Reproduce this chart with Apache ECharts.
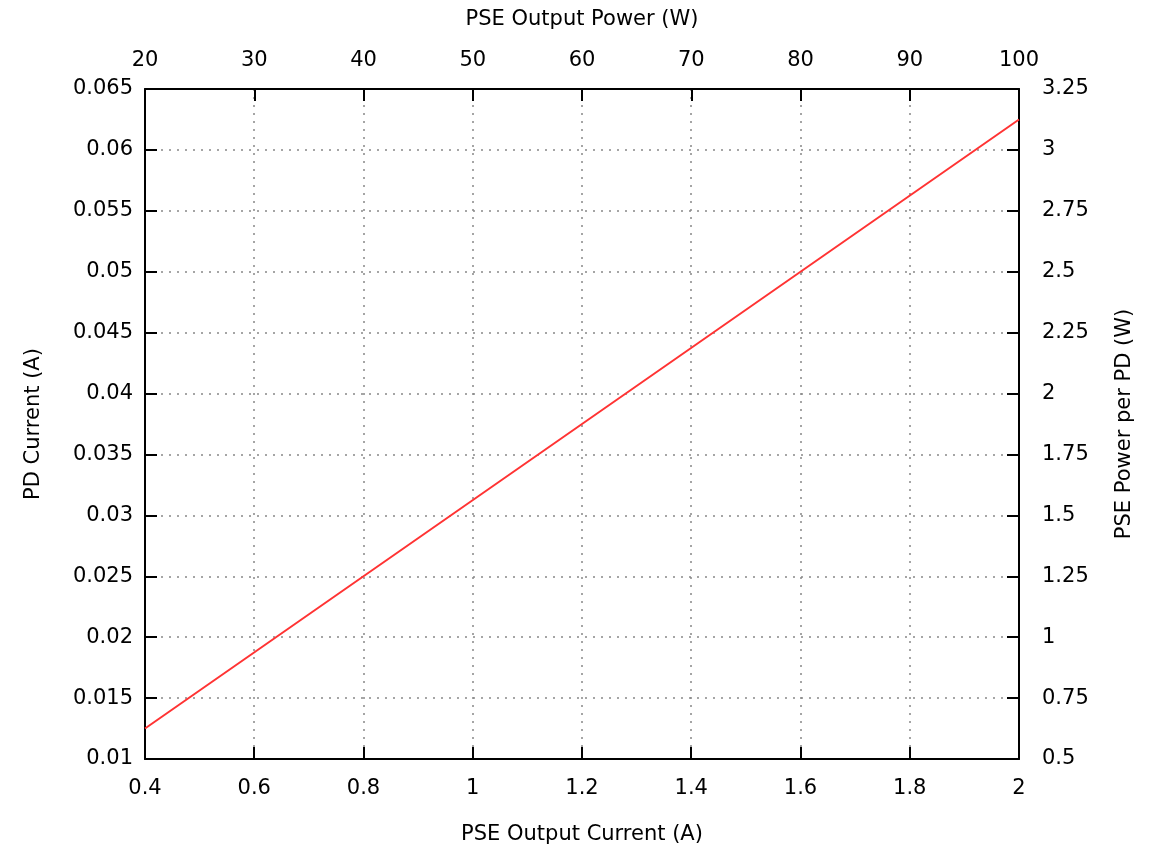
<!DOCTYPE html>
<html>
<head>
<meta charset="utf-8">
<script src="https://cdn.jsdelivr.net/npm/echarts@6/dist/echarts.min.js"></script>
<style>
  html, body { margin: 0; padding: 0; background: #fff; }
  #chart { width: 1175px; height: 850px; }
</style>
</head>
<body>
<div id="chart"></div>
<script>
// PSE output current (A) vs PD current (A)
const currentA = [0.4, 0.8, 1.2, 1.6, 2.0];
const pdCurrent = [0.0125, 0.025, 0.0375, 0.05, 0.0625];

const font = 'DejaVu Sans';
const txt = { color: '#000', fontFamily: font, fontSize: 21 };

// 坐标轴公共样式
const axisBase = {
  type: 'value',
  nameLocation: 'middle',
  nameTextStyle: { ...txt },
  axisLine: { show: true, onZero: false, lineStyle: { color: '#000', width: 2 } },
  axisTick: { show: true, inside: true, length: 12, lineStyle: { color: '#000', width: 2 } },
  axisLabel: { ...txt },
  splitLine: { show: false }
};

const gridLine = { show: true, lineStyle: { color: '#888', width: 1.5, type: [2, 6] } };

const chart = echarts.init(document.getElementById('chart'));
chart.setOption({
  backgroundColor: '#fff',
  animation: false,
  grid: { left: 145, right: 156, top: 89, bottom: 87 },
  xAxis: [
    {
      ...axisBase,
      position: 'bottom',
      name: 'PSE Output Current (A)',
      nameGap: 65,
      min: 0.4, max: 2, interval: 0.2,
      axisLabel: { ...txt, margin: 19 },
      splitLine: gridLine
    },
    {
      ...axisBase,
      position: 'top',
      name: 'PSE Output Power (W)',
      nameGap: 59,
      min: 20, max: 100, interval: 10,
      axisLabel: { ...txt, margin: 18 }
    }
  ],
  yAxis: [
    {
      ...axisBase,
      position: 'left',
      name: 'PD Current (A)',
      nameRotate: 90,
      nameGap: 101,
      min: 0.01, max: 0.065, interval: 0.005,
      axisLabel: { ...txt, margin: 12 },
      splitLine: gridLine
    },
    {
      ...axisBase,
      position: 'right',
      name: 'PSE Power per PD (W)',
      nameRotate: 90,
      nameGap: 95,
      min: 0.5, max: 3.25, interval: 0.25,
      axisLabel: { ...txt, margin: 23 }
    }
  ],
  series: [
    {
      type: 'line',
      xAxisIndex: 0,
      yAxisIndex: 0,
      data: currentA.map((x, i) => [x, pdCurrent[i]]),
      showSymbol: false,
      lineStyle: { color: '#ff3333', width: 2 }
    }
  ]
});
</script>
</body>
</html>
